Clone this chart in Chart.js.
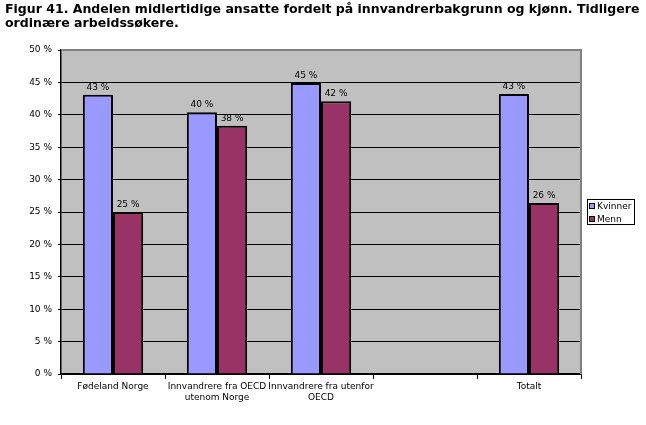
<!DOCTYPE html>
<html>
<head>
<meta charset="utf-8">
<script src="https://cdn.jsdelivr.net/npm/chart.js@4.4.1/dist/chart.umd.min.js"></script>
<style>
  body { margin: 0; background: #fff; }
  #chart { display: block; }
</style>
</head>
<body>
<canvas id="chart" width="646" height="425"></canvas>
<script>
// values
const categories = [["Fødeland Norge"], ["Innvandrere fra OECD", "utenom Norge"], ["Innvandrere fra utenfor", "OECD"], "", "Totalt"];
const kvinner = [43.1, 40.4, 44.9, null, 43.2];
const menn = [25.0, 38.3, 42.1, null, 26.4];
const seriesNames = ["Kvinner", "Menn"];
const seriesColors = ["#9999FF", "#993366"];
const titleLines = ["Figur 41. Andelen midlertidige ansatte fordelt på innvandrerbakgrunn og kjønn. Tidligere", "ordinære arbeidssøkere."];

const FONT = "'DejaVu Sans', Verdana, sans-serif";

// grey plot area with darker top/right edge
const plotBg = {
    id: 'plotBg',
    beforeDraw: (chart) => {
        const { ctx, chartArea: a } = chart;
        ctx.save();
        ctx.fillStyle = '#C0C0C0';
        ctx.fillRect(a.left, a.top, a.right - a.left, a.bottom - a.top);
        ctx.restore();
    },
    afterDatasetsDraw: (chart) => {
        const { ctx, chartArea: a } = chart;
        ctx.save();
        ctx.strokeStyle = '#808080';
        ctx.lineWidth = 2;
        ctx.beginPath();
        ctx.moveTo(a.left, a.top);
        ctx.lineTo(a.right, a.top);
        ctx.lineTo(a.right, a.bottom);
        ctx.stroke();
        ctx.restore();
    }
};

// title text across the full page width (the built-in title gets squeezed by the right padding)
const pageTitle = {
    id: 'pageTitle',
    afterDraw: (chart) => {
        const { ctx } = chart;
        ctx.save();
        ctx.font = 'bold 13px ' + FONT;
        let size = 13 * 635 / ctx.measureText(titleLines[0]).width;
        if (size > 13.5) size = 13.5;
        ctx.font = 'bold ' + size.toFixed(2) + 'px ' + FONT;
        ctx.fillStyle = '#000';
        ctx.textBaseline = 'alphabetic';
        ctx.fillText(titleLines[0], 5, 13);
        ctx.fillText(titleLines[1], 5, 27);
        ctx.restore();
    }
};

// "43 %" labels above bars
const barLabels = {
    id: 'barLabels',
    afterDatasetsDraw: (chart) => {
        const { ctx } = chart;
        ctx.save();
        ctx.font = '9px ' + FONT;
        ctx.fillStyle = '#000';
        ctx.textAlign = 'center';
        ctx.textBaseline = 'bottom';
        chart.data.datasets.forEach((ds, i) => {
            chart.getDatasetMeta(i).data.forEach((bar, j) => {
                const v = ds.data[j];
                if (v === null) return;
                ctx.fillText(Math.round(v) + ' %', bar.x, bar.y - 3);
            });
        });
        ctx.restore();
    }
};

// boxed legend to the right of the plot
const boxLegend = {
    id: 'boxLegend',
    afterDraw: (chart) => {
        const { ctx, chartArea: a } = chart;
        const x = a.right + 6, y = 199, w = 47, h = 25;
        ctx.save();
        ctx.fillStyle = '#fff';
        ctx.fillRect(x, y, w, h);
        ctx.strokeStyle = '#000';
        ctx.lineWidth = 1;
        ctx.strokeRect(x + 0.5, y + 0.5, w, h);
        ctx.font = '9px ' + FONT;
        ctx.textBaseline = 'middle';
        seriesNames.forEach((name, i) => {
            const sy = y + 4 + i * 13;
            ctx.fillStyle = seriesColors[i];
            ctx.fillRect(x + 2, sy, 6, 6);
            ctx.strokeRect(x + 2.5, sy + 0.5, 5, 5);
            ctx.fillStyle = '#000';
            ctx.fillText(name, x + 10, sy + 3.5);
        });
        ctx.restore();
    }
};

new Chart(document.getElementById('chart'), {
    type: 'bar',
    data: {
        labels: categories,
        datasets: [
            { label: seriesNames[0], data: kvinner, backgroundColor: seriesColors[0], borderColor: '#000', borderWidth: 2 },
            { label: seriesNames[1], data: menn, backgroundColor: seriesColors[1], borderColor: '#000', borderWidth: 2 }
        ]
    },
    options: {
        responsive: false,
        animation: false,
        layout: { padding: { left: 5, right: 65, top: 50, bottom: 0 } },
        datasets: { bar: { categoryPercentage: 0.58, barPercentage: 1 } },
        plugins: {
            legend: { display: false },
            tooltip: { enabled: false },
            title: { display: false }
        },
        scales: {
            x: {
                offset: true,
                grid: { offset: true, drawOnChartArea: false, color: '#000', tickLength: 5 },
                border: { color: '#000', width: 1.5 },
                ticks: { color: '#000', font: { family: FONT, size: 9 }, maxRotation: 0, autoSkip: false, padding: 2 },
                afterFit: (s) => { s.height = 51; }
            },
            y: {
                min: 0,
                max: 50,
                ticks: { stepSize: 5, color: '#000', font: { family: FONT, size: 9 }, padding: 6, callback: (v) => v + ' %' },
                grid: { color: '#000', tickLength: 3 },
                border: { color: '#000', width: 1.5 },
                afterFit: (s) => { s.width = 56; }
            }
        }
    },
    plugins: [plotBg, barLabels, boxLegend, pageTitle]
});
</script>
</body>
</html>
